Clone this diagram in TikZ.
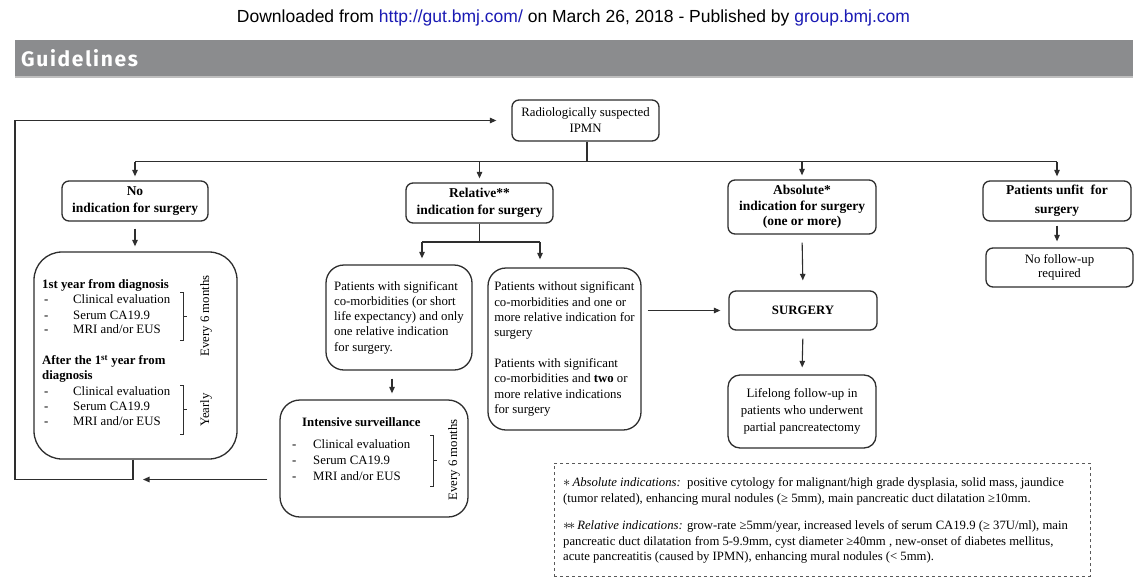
\documentclass[tikz,border=0pt]{standalone}
\usepackage{fontspec}
\setmainfont{Liberation Serif}
\newfontfamily\hdrfont{Liberation Sans}
\newfontfamily\guidefont[LetterSpace=8]{Fira Sans}
\usetikzlibrary{arrows.meta}
\definecolor{linkblue}{HTML}{1A1AB4}
\definecolor{bargray}{HTML}{8B8C8E}
\definecolor{ink}{HTML}{2E2E2E}
\tikzset{
  box/.style={draw=ink, line width=1.3pt, rounded corners=7pt, inner sep=0pt, align=center, font=\fontsize{12.8}{16}\selectfont},
  bbox/.style={box, font=\fontsize{13.5}{16.5}\selectfont\bfseries},
  conn/.style={draw=ink, line width=1.1pt},
  arr/.style={conn, -{Triangle[length=6.5pt,width=5.5pt]}},
  txt/.style={inner sep=0pt, anchor=west, text height=9pt, text depth=3pt, font=\fontsize{12.8}{15.3}\selectfont},
  btxt/.style={txt, font=\fontsize{12.8}{15.3}\selectfont\bfseries},
  rtxt/.style={inner sep=0pt, rotate=90, font=\fontsize{12.8}{15.3}\selectfont},
  brk/.style={draw=ink, line width=0.6pt},
}
\begin{document}
\begin{tikzpicture}[x=1pt,y=-1pt]
\useasboundingbox (0,0) rectangle (1147,578);
\fill[white] (0,0) rectangle (1147,578);
% header
\node[inner sep=0pt, font=\hdrfont\fontsize{17.5}{20}\selectfont] (hdr) at (573.5,18) {Downloaded from \textcolor{linkblue}{http://gut.bmj.com/} on March 26, 2018 - Published by \textcolor{linkblue}{group.bmj.com}};
\fill[bargray] (15,40) rectangle (1133,76);
\draw[black!25, line width=1.5pt] (15,76.8) -- (1133,76.8);
\node[inner sep=0pt, anchor=west, text=white, font=\guidefont\bfseries\fontsize{21}{24}\selectfont] (title) at (21,58) {Guidelines};

% boxes
\node[box, minimum width=147pt, minimum height=41pt] (rad) at (585.5,120.5) {Radiologically suspected\\IPMN};
\node[bbox, minimum width=146pt, minimum height=40pt] (no) at (135,201) {No\\indication for surgery};
\node[bbox, minimum width=147pt, minimum height=40pt] (rel) at (479.5,203) {Relative**\\indication for surgery};
\node[bbox, minimum width=148pt, minimum height=54pt, font=\fontsize{13.5}{15.5}\selectfont\bfseries] (abs) at (802,207) {Absolute*\\indication for surgery\\(one or more)};
\node[bbox, minimum width=148pt, minimum height=40pt, font=\fontsize{13.5}{19}\selectfont\bfseries] (unfit) at (1057,201) {Patients unfit\ \ for\\surgery};
\node[box, minimum width=147pt, minimum height=39pt, font=\fontsize{12.8}{14.5}\selectfont] (nofu) at (1059.5,267.5) {No follow-up\\required};
\node[bbox, minimum width=148pt, minimum height=39pt, font=\fontsize{12.8}{15}\selectfont\bfseries] (surg) at (803,310.5) {SURGERY};
\node[box, minimum width=148pt, minimum height=73pt, font=\fontsize{12.8}{17}\selectfont, rounded corners=12pt] (life) at (802,411.5) {Lifelong follow-up in\\patients who underwent\\partial pancreatectomy};
\node[box, minimum width=146pt, minimum height=105pt, rounded corners=18pt, align=left, font=\fontsize{12.8}{15.3}\selectfont] (p1) at (399,317.5) {Patients with significant\\co-morbidities (or short\\life expectancy) and only\\one relative indication\\for surgery.};
\node[box, minimum width=153pt, minimum height=162pt, rounded corners=18pt, align=left, font=\fontsize{12.8}{15.3}\selectfont] (p2) at (564.5,349) {Patients without significant\\co-morbidities and one or\\more relative indication for\\surgery\\[15.3pt]Patients with significant\\co-morbidities and \textbf{two} or\\more relative indications\\for surgery};
\node[box, minimum width=203pt, minimum height=207pt, rounded corners=28pt] (left) at (135.5,355.5) {};
\node[box, minimum width=188pt, minimum height=117pt, rounded corners=20pt] (intens) at (374,458.5) {};
\node[draw=black!65, dashed, line width=0.9pt, minimum width=536pt, minimum height=113pt, inner sep=0pt] (notes) at (822,519.5) {};

% left box contents
\node[btxt] (l1h) at (42,285) {1st year from diagnosis};
\node[txt] (l1d1) at (44,300.7) {-};
\node[txt] (l1d2) at (44,316) {-};
\node[txt] (l1d3) at (44,330.7) {-};
\node[txt] (l1a) at (73,300.7) {Clinical evaluation};
\node[txt] (l1b) at (73,316) {Serum CA19.9};
\node[txt] (l1c) at (73,330.7) {MRI and/or EUS};
\draw[brk] (180,292) -- (183,292) -- (183,340.7) -- (180,340.7);
\draw[brk] (183,316.5) -- (187,316.5);
\node[rtxt] (l1r) at (206,316) {Every 6 months};
\node[btxt] (l2h) at (42,361.7) {After the 1\textsuperscript{st} year from};
\node[btxt] (l2h2) at (42,376.7) {diagnosis};
\node[txt] (l2d1) at (44,392.7) {-};
\node[txt] (l2d2) at (44,407.7) {-};
\node[txt] (l2d3) at (44,422.7) {-};
\node[txt] (l2a) at (73,392.7) {Clinical evaluation};
\node[txt] (l2b) at (73,407.7) {Serum CA19.9};
\node[txt] (l2c) at (73,422.7) {MRI and/or EUS};
\draw[brk] (180,385) -- (183,385) -- (183,434) -- (180,434);
\draw[brk] (183,409.5) -- (187,409.5);
\node[rtxt] (l2r) at (206,410) {Yearly};

% intensive contents
\node[btxt] (ih) at (302,423) {Intensive surveillance};
\node[txt] (id1) at (292,445.7) {-};
\node[txt] (id2) at (292,461) {-};
\node[txt] (id3) at (292,477) {-};
\node[txt] (ia) at (313,445.7) {Clinical evaluation};
\node[txt] (ib) at (313,461) {Serum CA19.9};
\node[txt] (ic) at (313,477) {MRI and/or EUS};
\draw[brk] (430,435) -- (433,435) -- (433,486) -- (430,486);
\draw[brk] (433,460.5) -- (437,460.5);
\node[rtxt] (ir) at (454,460) {Every 6 months};

% notes
\node[inner sep=0pt, anchor=north west, align=left, font=\fontsize{12.7}{15.8}\selectfont] (ntext) at (563,477.5) {{\Large$\ast$}\,\textit{Absolute indications:}\ \ positive cytology for malignant/high grade dysplasia, solid mass, jaundice\\(tumor related), enhancing mural nodules (≥ 5mm), main pancreatic duct dilatation ≥10mm.\\[11pt]{\Large$\ast\!\ast$}\,\textit{Relative indications:} grow-rate ≥5mm/year, increased levels of serum CA19.9 (≥ 37U/ml), main\\pancreatic duct dilatation from 5-9.9mm, cyst diameter ≥40mm , new-onset of diabetes mellitus,\\acute pancreatitis (caused by IPMN), enhancing mural nodules (< 5mm).};

% connectors
\coordinate (hb) at (587,161.5);
\draw[conn] (rad.south -| hb) -- (hb);
\draw[conn] (no.north |- hb) -- (unfit.north |- hb);
\foreach \n in {no,rel,abs,unfit}
  \draw[arr, shorten >=4pt] (\n.north |- hb) -- (\n.north);
\draw[arr, shorten <=7pt, shorten >=5pt] (no.south) -- (no.south |- left.north);

\coordinate (lb) at (133,479.5);
\coordinate (lc) at (15,479.5);
\draw[arr, shorten >=15pt] (left.south -| lb) -- (lb) -- (lc) |- (rad.west);
\draw[arr] ([xshift=-12pt]intens.west |- lb) -- ([xshift=10pt]lb);

\coordinate (ra) at (422,242);
\coordinate (rb) at (540,242);
\draw[conn] (rel.south) -- (rel.south |- ra);
\draw[conn] (ra) -- (rb);
\draw[arr, shorten >=6pt] (ra) -- (ra |- p1.north);
\draw[arr, shorten >=8pt] (rb) -- (rb |- p2.north);
\draw[arr, shorten <=8pt, shorten >=6pt] ([xshift=-7pt]p1.south) -- ([xshift=-7pt]p1.south |- intens.north);
\draw[arr, shorten <=6pt, shorten >=8pt] (p2.east |- surg.west) -- (surg.west);
\draw[arr, shorten <=8pt, shorten >=10pt] (abs.south) -- (surg.north);
\draw[arr, shorten <=8pt, shorten >=7pt] (surg.south) -- (life.north);
\draw[arr, shorten <=4pt, shorten >=6pt] (unfit.south) -- (unfit.south |- nofu.north);
\end{tikzpicture}
\end{document}
